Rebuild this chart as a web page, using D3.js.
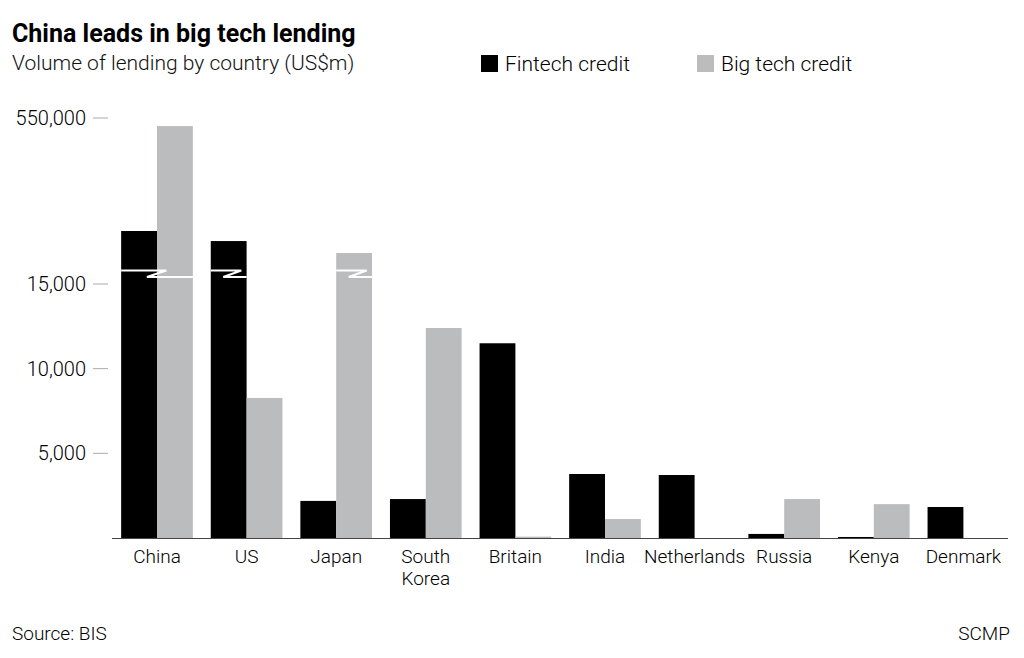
<!DOCTYPE html>
<html><head><meta charset="utf-8">
<script src="https://cdn.jsdelivr.net/npm/d3@7"></script>
<style>body{margin:0;background:#fff;font-family:Roboto,"Open Sans",sans-serif;}</style>
</head><body>
<svg id="chart" width="1024" height="658"></svg>
<script>
const countries = ["China", "US", "Japan", "South Korea", "Britain", "India", "Netherlands", "Russia", "Kenya", "Denmark"];
const fintech = [145000, 109000, 2190, 2300, 11500, 3780, 3720, 240, 60, 1830];
const bigtech = [521000, 8270, 66000, 12400, 80, 1120, 0, 2300, 2000, 0];
const tickValues = [5000, 10000, 15000, 550000];
// bars broken at the axis break
const breaks = [{ i: 0, bars: "both" }, { i: 1, bars: "fin" }, { i: 2, bars: "big" }];

const svg = d3.select("#chart");
const y = d3.scaleLinear().domain([0, 15000, 16000, 550000]).range([538, 284, 267, 118]);
const x = d3.scaleBand().domain(countries).range([112.2, 1008.2]).paddingInner(0.2).paddingOuter(0.1);
const bw = x.bandwidth() / 2;

svg.append("text").attr("x", 12).attr("y", 42).attr("font-size", 25).attr("font-weight", 700)
  .attr("fill", "#000").text("China leads in big tech lending");
svg.append("text").attr("x", 12).attr("y", 70).attr("font-size", 21).attr("font-weight", 300)
  .attr("fill", "#111").text("Volume of lending by country (US$m)");

const legend = [["Fintech credit", "#000", 481], ["Big tech credit", "#bbbcbe", 697]];
legend.forEach(([t, c, lx]) => {
  svg.append("rect").attr("x", lx).attr("y", 55).attr("width", 17).attr("height", 17).attr("fill", c);
  svg.append("text").attr("x", lx + 24).attr("y", 71).attr("font-size", 21).attr("font-weight", 300).text(t);
});

// axis ticks
const ticks = svg.append("g");
tickValues.forEach(v => {
  ticks.append("line").attr("x1", 93).attr("x2", 108).attr("y1", y(v)).attr("y2", y(v)).attr("stroke", "#aaa");
  ticks.append("text").attr("x", 86).attr("y", y(v) + 7).attr("text-anchor", "end")
    .attr("font-size", 20).attr("font-weight", 300).text(d3.format(",")(v));
});

const g = svg.append("g");
g.selectAll(".fin").data(countries).join("rect")
  .attr("x", d => x(d)).attr("width", bw)
  .attr("y", (d, i) => y(fintech[i])).attr("height", (d, i) => y(0) - y(fintech[i]))
  .attr("fill", "#000");
g.selectAll(".big").data(countries).join("rect")
  .attr("x", d => x(d) + bw).attr("width", bw)
  .attr("y", (d, i) => y(bigtech[i])).attr("height", (d, i) => y(0) - y(bigtech[i]))
  .attr("fill", "#bbbcbe");

breaks.forEach(b => {
  const c = countries[b.i];
  let x0 = x(c), x1 = x(c) + 2 * bw;
  if (b.bars === "fin") x1 = x(c) + bw;
  if (b.bars === "big") x0 = x(c) + bw;
  const w = x1 - x0;
  const frac = b.bars === "both" ? [0.63, 0.36] : [0.85, 0.35];
  g.append("path")
    .attr("d", `M${x0},270.5 H${x0 + w * frac[0]} L${x0 + w * frac[1]},277 H${x1}`)
    .attr("fill", "none").attr("stroke", "#fff").attr("stroke-width", 2.2);
});

svg.append("line").attr("x1", 112).attr("x2", 1008).attr("y1", 538.5).attr("y2", 538.5)
  .attr("stroke", "#444").attr("stroke-width", 1);

// category labels
countries.forEach(c => {
  const t = svg.append("text").attr("x", x(c) + bw).attr("y", 563).attr("text-anchor", "middle")
    .attr("font-size", 19).attr("font-weight", 300);
  c.split(" ").forEach((w, k) => t.append("tspan").attr("x", x(c) + bw).attr("dy", k ? 22 : 0).text(w));
});

svg.append("text").attr("x", 12).attr("y", 640).attr("font-size", 19).attr("font-weight", 300).text("Source: BIS");
svg.append("text").attr("x", 1010).attr("y", 640).attr("text-anchor", "end").attr("font-size", 19).attr("font-weight", 300).text("SCMP");
</script>
</body></html>
